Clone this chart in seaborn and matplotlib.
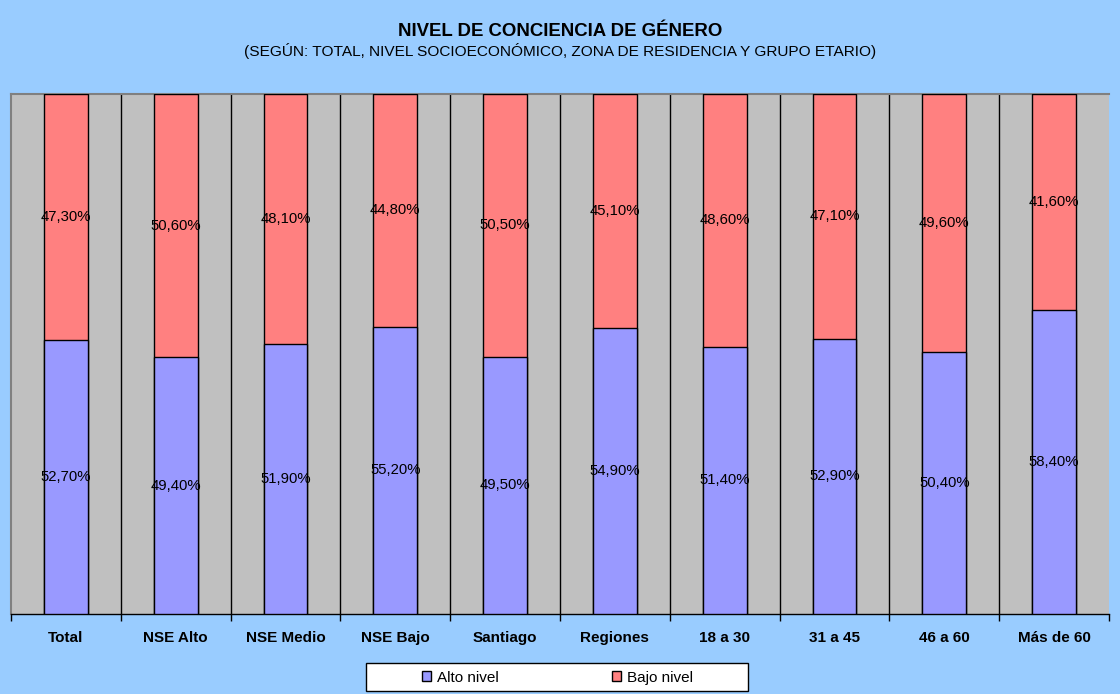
import matplotlib.pyplot as plt
import seaborn as sns
import numpy as np
import pandas as pd

categories = ['Total', 'NSE Alto', 'NSE Medio', 'NSE Bajo', 'Santiago',
              'Regiones', '18 a 30', '31 a 45', '46 a 60', 'Más de 60']
alto_nivel = [52.7, 49.4, 51.9, 55.2, 49.5, 54.9, 51.4, 52.9, 50.4, 58.4]
bajo_nivel = [47.3, 50.6, 48.1, 44.8, 50.5, 45.1, 48.6, 47.1, 49.6, 41.6]

BG = '#99ccff'
BLUE = '#9999ff'
RED = '#ff8080'

sns.set_style('white')
plt.rcParams['font.family'] = ['Liberation Sans', 'DejaVu Sans']
plt.rcParams['text.color'] = 'black'
plt.rcParams['xtick.color'] = 'black'
plt.rcParams['xtick.labelcolor'] = 'black'

df = pd.DataFrame({'cat': categories, 'alto': alto_nivel, 'bajo': bajo_nivel})
df['total'] = df['alto'] + df['bajo']

fig = plt.figure(figsize=(11.2, 6.94), dpi=100, facecolor=BG)
ax = fig.add_axes([0.0098, 0.1153, 0.9804, 0.7493])
ax.set_facecolor('#c0c0c0')

# stacked: full bar in red, then the lower part in blue
sns.barplot(data=df, x='cat', y='total', color=RED, width=0.4,
            edgecolor='black', linewidth=1, saturation=1, ax=ax, zorder=3)
sns.barplot(data=df, x='cat', y='alto', color=BLUE, width=0.4,
            edgecolor='black', linewidth=1, saturation=1, ax=ax, zorder=4)

n = len(categories)
for b in np.arange(0.5, n - 1, 1):
    ax.axvline(b, color='black', lw=1, zorder=1)

for i, (a, b) in enumerate(zip(alto_nivel, bajo_nivel)):
    ax.text(i, a / 2, f'{a:.2f}'.replace('.', ',') + '%', ha='center',
            va='center', fontsize=10.7, zorder=5)
    ax.text(i, a + b / 2, f'{b:.2f}'.replace('.', ',') + '%', ha='center',
            va='center', fontsize=10.7, zorder=5)

ax.set_xlim(-0.5, n - 0.5)
ax.set_ylim(0, 100)
ax.set_yticks([])
ax.set_xlabel('')
ax.set_ylabel('')
ax.set_xticks(range(n))
ax.set_xticklabels(categories, fontsize=11, fontweight='bold')
ax.tick_params(axis='x', which='major', length=0, pad=12)
ax.set_xticks(np.arange(-0.5, n, 1), minor=True)
ax.tick_params(axis='x', which='minor', bottom=True, length=5, width=1,
               color='black', direction='out')

for side in ['left', 'top']:
    ax.spines[side].set_color('#808080')
    ax.spines[side].set_linewidth(1.5)
ax.spines['right'].set_visible(False)
ax.spines['bottom'].set_color('black')
ax.spines['bottom'].set_linewidth(1)

fig.text(0.5, 0.954, 'NIVEL DE CONCIENCIA DE GÉNERO', ha='center',
         va='center', fontsize=13.4, fontweight='bold')
fig.text(0.5, 0.927, '(SEGÚN: TOTAL, NIVEL SOCIOECONÓMICO, ZONA DE RESIDENCIA Y GRUPO ETARIO)',
         ha='center', va='center', fontsize=11.1)

# legend box
fig.patches.append(plt.Rectangle((0.3268, 0.0043), 0.3411, 0.0403,
                                 transform=fig.transFigure, facecolor='white',
                                 edgecolor='black', linewidth=1, zorder=0))
handles = [plt.Rectangle((0, 0), 1, 1, facecolor=BLUE, edgecolor='black'),
           plt.Rectangle((0, 0), 1, 1, facecolor=RED, edgecolor='black')]
fig.legend(handles, ['Alto nivel', 'Bajo nivel'], loc='center',
           bbox_to_anchor=(0.4978, 0.0235), ncol=2, fontsize=11,
           frameon=False, handlelength=0.6, handleheight=0.6,
           handletextpad=0.4, columnspacing=7.4, borderpad=0,
           borderaxespad=0)

fig.savefig('out.png', dpi=100, facecolor=BG)
